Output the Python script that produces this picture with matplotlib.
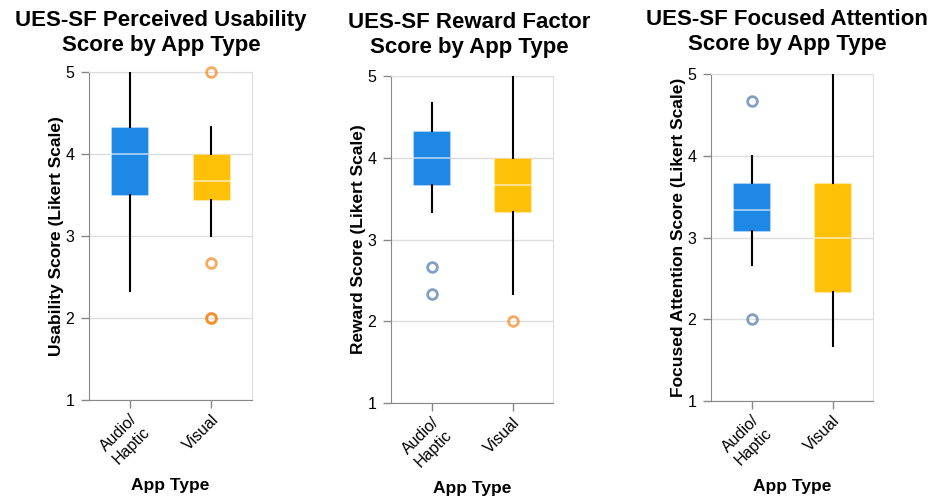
import matplotlib
matplotlib.use("Agg")
import matplotlib.pyplot as plt

plt.rcParams['font.family'] = ['Liberation Sans', 'DejaVu Sans']

# categories
app_types = ["Audio/\nHaptic", "Visual"]
box_colors = ["#1E88E5", "#FFC107"]
outlier_colors = ["#4c78a8", "#f58518"]

# box stats per panel: [Audio/Haptic, Visual]
usability_q1 = [3.5, 3.444]
usability_med = [4.0, 3.667]
usability_q3 = [4.333, 4.0]
usability_lo = [2.333, 3.0]
usability_hi = [5.0, 4.333]
usability_out = [[], [5.0, 2.667, 2.0, 2.0]]

reward_q1 = [3.667, 3.333]
reward_med = [4.0, 3.667]
reward_q3 = [4.333, 4.0]
reward_lo = [3.333, 2.333]
reward_hi = [4.667, 5.0]
reward_out = [[2.667, 2.333], [2.0]]

attention_q1 = [3.083, 2.333]
attention_med = [3.333, 3.0]
attention_q3 = [3.667, 3.667]
attention_lo = [2.667, 1.667]
attention_hi = [4.0, 5.0]
attention_out = [[4.667, 2.0], []]

panels = [
    ("UES-SF Perceived Usability\nScore by App Type", "Usability Score (Likert Scale)",
     usability_q1, usability_med, usability_q3, usability_lo, usability_hi, usability_out),
    ("UES-SF Reward Factor\nScore by App Type", "Reward Score (Likert Scale)",
     reward_q1, reward_med, reward_q3, reward_lo, reward_hi, reward_out),
    ("UES-SF Focused Attention\nScore by App Type", "Focused Attention Score (Likert Scale)",
     attention_q1, attention_med, attention_q3, attention_lo, attention_hi, attention_out),
]

W, H = 932, 500
fig = plt.figure(figsize=(W / 100, H / 100), dpi=100)

# pixel boxes: left, right, top, bottom
rects = [(89, 252, 72, 400), (391, 553, 76, 403), (711, 873, 74, 401)]
title_x = [161, 469, 787]
title_y = [33, 35, 32]

for i, (title, ylab, q1, med, q3, lo, hi, out) in enumerate(panels):
    l, r, t, b = rects[i]
    ax = fig.add_axes([l / W, 1 - b / H, (r - l) / W, (b - t) / H])
    stats = []
    for j in range(2):
        stats.append(dict(q1=q1[j], med=med[j], q3=q3[j], whislo=lo[j], whishi=hi[j], fliers=[]))
    bp = ax.bxp(stats, positions=[0, 1], widths=0.45, patch_artist=True, showcaps=False,
                showfliers=False, zorder=3,
                whiskerprops=dict(color="black", linewidth=1.5),
                medianprops=dict(color="white", alpha=0.6, linewidth=1.3))
    for j, patch in enumerate(bp["boxes"]):
        patch.set_facecolor(box_colors[j])
        patch.set_edgecolor((1, 1, 1, 0.25))
        patch.set_linewidth(0.8)
    for j in range(2):
        if out[j]:
            ax.plot([j] * len(out[j]), out[j], "o", ms=7, mfc="none", mec=outlier_colors[j],
                    mew=2.0, alpha=0.7, zorder=4, clip_on=False)

    ax.set_xlim(-0.5, 1.5)
    ax.set_ylim(1, 5)
    ax.set_yticks([1, 2, 3, 4, 5])
    ax.set_xticks([0, 1])
    ax.set_xticklabels(app_types, rotation=45, ha="right", rotation_mode="anchor",
                       multialignment="right")
    ax.yaxis.grid(True, color="#dddddd", linewidth=1, zorder=0)
    ax.set_axisbelow(True)
    for s in ["top", "right"]:
        ax.spines[s].set_color("#dddddd")
    for s in ["left", "bottom"]:
        ax.spines[s].set_color("#888888")
    ax.tick_params(colors="#888888", length=5.5, width=1, labelsize=11.5, labelcolor="black")
    ax.tick_params(axis="y", pad=5)
    ax.tick_params(axis="x", pad=3)
    ax.set_xlabel("App Type", fontsize=12.5, fontweight="bold", labelpad=8)
    ax.set_ylabel(ylab, fontsize=12.5, fontweight="bold", labelpad=1)
    fig.text(title_x[i] / W, 1 - title_y[i] / H, title, ha="center", va="center",
             fontsize=16, fontweight="bold", linespacing=1.3)

fig.savefig("out.png", dpi=100)
